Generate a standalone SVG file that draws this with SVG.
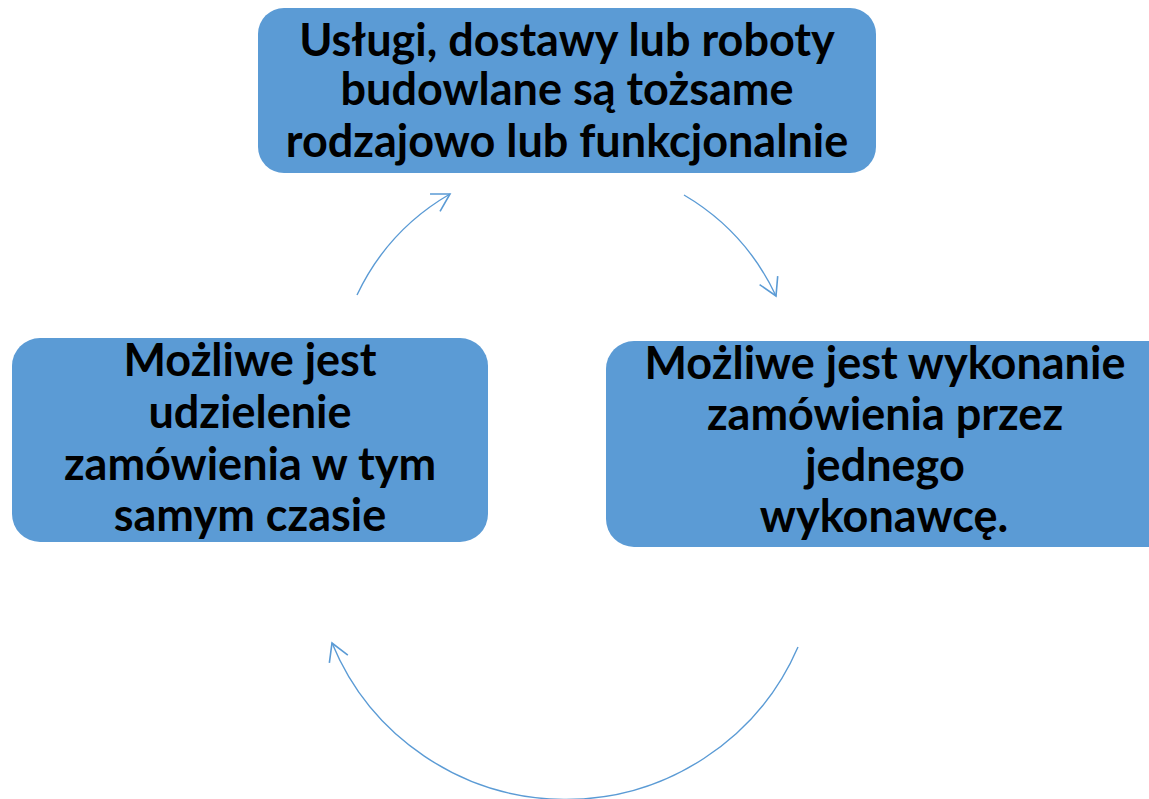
<svg xmlns="http://www.w3.org/2000/svg" width="1149" height="799" viewBox="0 0 1149 799">
<defs>
<style>
.box{fill:#5b9bd5;}
.t{font-family:Lato,"Open Sans","Liberation Sans",sans-serif;font-weight:bold;font-size:45px;fill:#000;text-anchor:middle;}
.c{fill:none;stroke:#5b9bd5;stroke-width:1.4;}
</style>
<marker id="ah" markerUnits="userSpaceOnUse" markerWidth="30" markerHeight="30" refX="0" refY="0" orient="auto" overflow="visible">
<path d="M-17.3,-10 L0,0 L-17.3,10" fill="none" stroke="#5b9bd5" stroke-width="1.6"/>
</marker>
</defs>
<rect width="1149" height="799" fill="#fff"/>
<g id="connectors">
<path class="c" d="M357,295 A231,231 0 0,1 450,194" marker-end="url(#ah)"/>
<path class="c" d="M684,195 A231,231 0 0,1 776,296" marker-end="url(#ah)"/>
<path class="c" d="M798,647 A253,253 0 0,1 332,643" marker-end="url(#ah)"/>
</g>
<g id="node-top">
<rect class="box" x="258" y="8" width="618" height="165" rx="26"/>
<text class="t" x="567" y="56">Usługi, dostawy lub roboty</text>
<text class="t" x="567" y="105">budowlane są tożsame</text>
<text class="t" x="567" y="157">rodzajowo lub funkcjonalnie</text>
</g>
<g id="node-right">
<rect class="box" x="606" y="341" width="580" height="206" rx="28"/>
<text class="t" x="885" y="379">Możliwe jest wykonanie</text>
<text class="t" x="885" y="430">zamówienia przez</text>
<text class="t" x="885" y="481">jednego</text>
<text class="t" x="884" y="532">wykonawcę.</text>
</g>
<g id="node-left">
<rect class="box" x="12" y="338" width="476" height="204" rx="28"/>
<text class="t" x="250" y="376">Możliwe jest</text>
<text class="t" x="250" y="428">udzielenie</text>
<text class="t" x="250" y="480">zamówienia w tym</text>
<text class="t" x="250" y="531">samym czasie</text>
</g>
</svg>
